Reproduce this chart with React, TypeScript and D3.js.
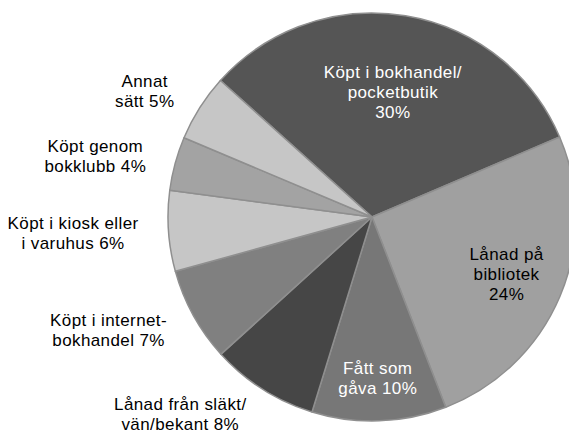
import React, { useEffect, useRef } from 'react';
import * as d3 from 'd3';

// label text, the value + '%' is appended to the end
const categories = [
  'Köpt i bokhandel/\npocketbutik\n',
  'Lånad på\nbibliotek\n',
  'Fått som\ngåva ',
  'Lånad från släkt/\nvän/bekant ',
  'Köpt i internet-\nbokhandel ',
  'Köpt i kiosk eller\ni varuhus ',
  'Köpt genom\nbokklubb ',
  'Annat\nsätt ',
];
const values = [30, 24, 10, 8, 7, 6, 4, 5];
const colors = ['#555555', '#a0a0a0', '#777777', '#464646', '#808080', '#c6c6c6', '#a3a3a3', '#c6c6c6'];
const labelColors = ['#ffffff', '#000000', '#ffffff', '#000000', '#000000', '#000000', '#000000', '#000000'];
const labelInside = [true, true, true, false, false, false, false, false];
const labelRadius = [127, 146, 161, 234, 234, 234, 234, 234];

const App = () => {
  const ref = useRef<SVGSVGElement>(null);

  useEffect(() => {
    const cx = 372;
    const cy = 217;
    const radius = 204;
    const start = (-48 * Math.PI) / 180;

    const svg = d3.select(ref.current);
    svg.selectAll('*').remove();

    const pie = d3
      .pie<number>()
      .sort(null)
      .value((d) => d)
      .startAngle(start)
      .endAngle(start + 2 * Math.PI);
    const arcs = pie(values);

    const arc = d3.arc<d3.PieArcDatum<number>>().innerRadius(0).outerRadius(radius);

    const g = svg.append('g').attr('transform', 'translate(' + cx + ',' + cy + ')');

    g.selectAll('path')
      .data(arcs)
      .enter()
      .append('path')
      .attr('d', arc)
      .attr('fill', (d, i) => colors[i])
      .attr('stroke', '#8f8f8f')
      .attr('stroke-width', 1.5)
      .attr('stroke-linejoin', 'round');

    const lh = 20;
    const labels = g
      .selectAll('text')
      .data(arcs)
      .enter()
      .append('text')
      .attr('font-family', '"Liberation Sans", Arial, sans-serif')
      .attr('font-size', 17)
      .attr('letter-spacing', 0.4)
      .attr('fill', (d, i) => labelColors[i])
      .attr('text-anchor', 'middle');

    labels.each(function (d, i) {
      const r = labelRadius[i];
      const [lx, ly] = d3.arc<d3.PieArcDatum<number>>().innerRadius(r).outerRadius(r).centroid(d);
      const lines = (categories[i] + values[i] + '%').split('\n');
      const top = ly - ((lines.length - 1) * lh) / 2;
      const t = d3.select(this);
      const spans = lines.map((line, j) =>
        t.append('tspan')
          .attr('x', lx)
          .attr('y', top + j * lh)
          .attr('dy', '0.35em')
          .text(line)
      );
      if (!labelInside[i]) {
        // block is right-aligned to the anchor, lines centred inside it
        const w = d3.max(spans, (s) => (s.node() as SVGTSpanElement).getComputedTextLength()) || 0;
        spans.forEach((s) => s.attr('x', lx - w / 2));
      }
    });
  }, []);

  return (
    <svg
      ref={ref}
      width={569}
      height={432}
      style={{ position: 'absolute', left: 0, top: 0, background: '#fff' }}
    />
  );
};

export default App;
